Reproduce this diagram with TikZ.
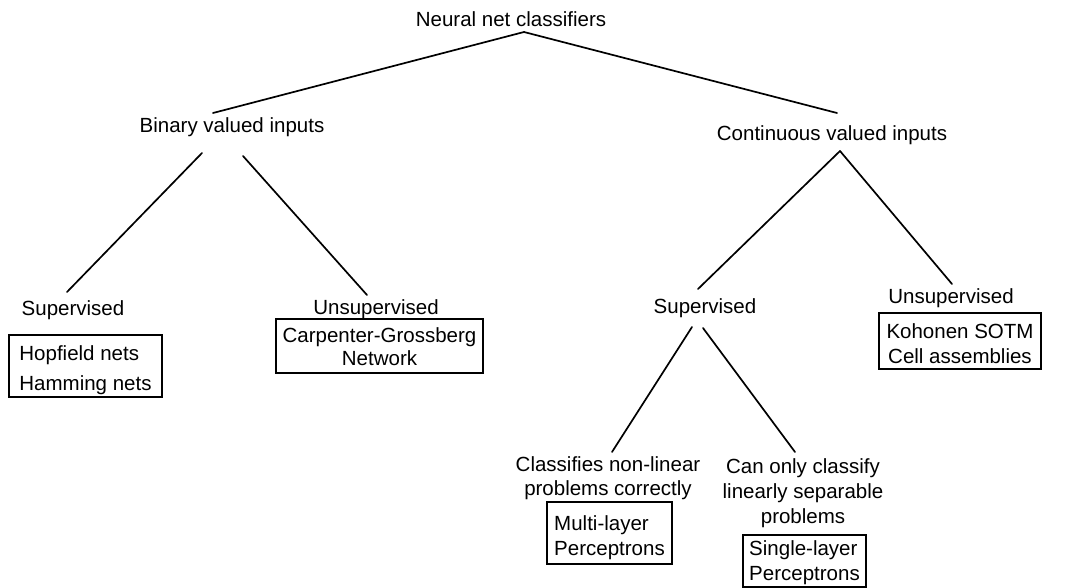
\documentclass[tikz,border=0pt]{standalone}
\usepackage{fontspec}
\setmainfont{Liberation Sans}
\usetikzlibrary{calc}
\newcommand{\tstrut}[1]{\rule{0pt}{#1}}
\newcommand{\bstrut}[1]{\rule[-#1]{0pt}{#1}}
\begin{document}
\begin{tikzpicture}[x=1pt,y=-1pt,
  lbl/.style={font=\fontsize{20.5}{24}\selectfont, inner sep=0pt, align=center},
  boxnode/.style={draw, line width=1.9pt, inner sep=0pt},
  link/.style={line width=1.7pt, line cap=round}]
\useasboundingbox (0,0) rectangle (1065,588);

% labels
\node[lbl, anchor=base] (root) at (511,27) {Neural net classifiers};
\node[lbl, anchor=base] (bin) at (232,133) {Binary valued inputs};
\node[lbl, anchor=base] (cont) at (832,141) {Continuous valued inputs};
\node[lbl, anchor=base] (sup1) at (73,315) {Supervised};
\node[lbl, anchor=base] (uns1) at (376,314) {Unsupervised};
\node[lbl, anchor=base] (sup2) at (705,313) {Supervised};
\node[lbl, anchor=base] (uns2) at (951,303) {Unsupervised};
\node[lbl, anchor=north] (cls) at (608,456) {\tstrut{15pt}Classifies non-linear\\problems correctly};
\node[lbl, anchor=north, font=\fontsize{20.5}{25}\selectfont] (can) at (803,458) {\tstrut{15pt}Can only classify\\linearly separable\\problems};

% boxes
\node[boxnode, minimum width=153pt, align=left, font=\fontsize{20.5}{30}\selectfont] (hop) at (85.5,366)
  {\tstrut{25pt}Hopfield nets\\Hamming nets\bstrut{7pt}};
\node[boxnode, minimum width=207pt, align=center, font=\fontsize{20.5}{23}\selectfont] (carp) at (379.5,346)
  {\tstrut{23pt}Carpenter-Grossberg\\Network\bstrut{8pt}};
\node[boxnode, minimum width=162pt, align=center, font=\fontsize{20.5}{25}\selectfont] (koh) at (960,341)
  {\tstrut{25pt}Kohonen SOTM\\Cell assemblies\bstrut{6pt}};
\node[boxnode, minimum width=125pt, align=left, font=\fontsize{20.5}{25}\selectfont] (mlp) at (609.5,533)
  {\tstrut{28pt}Multi-layer\\Perceptrons\bstrut{9pt}};
\node[boxnode, minimum width=123pt, align=left, font=\fontsize{20.5}{25}\selectfont] (slp) at (804.5,561)
  {\tstrut{20pt}Single-layer\\Perceptrons\bstrut{6.5pt}};

% connectors
\draw[link] ($(root.base)+(13,5)$) -- ($(bin.base)+(-19,-20)$);
\draw[link] ($(root.base)+(13,5)$) -- ($(cont.base)+(5,-28)$);
\draw[link] ($(bin.base)+(-30,20)$) -- ($(sup1.base)+(-6,-23)$);
\draw[link] ($(bin.base)+(11,23)$) -- ($(uns1.base)+(-9,-19)$);
\draw[link] ($(cont.base)+(8,10)$) -- ($(sup2.base)+(-7,-24)$);
\draw[link] ($(cont.base)+(8,10)$) -- ($(uns2.base)+(1,-19)$);
\draw[link] ($(sup2.base)+(-13,14)$) -- ($(cls.north)+(4,-4)$);
\draw[link] ($(sup2.base)+(-2,15)$) -- ($(can.north)+(-8,-6)$);
\end{tikzpicture}
\end{document}
